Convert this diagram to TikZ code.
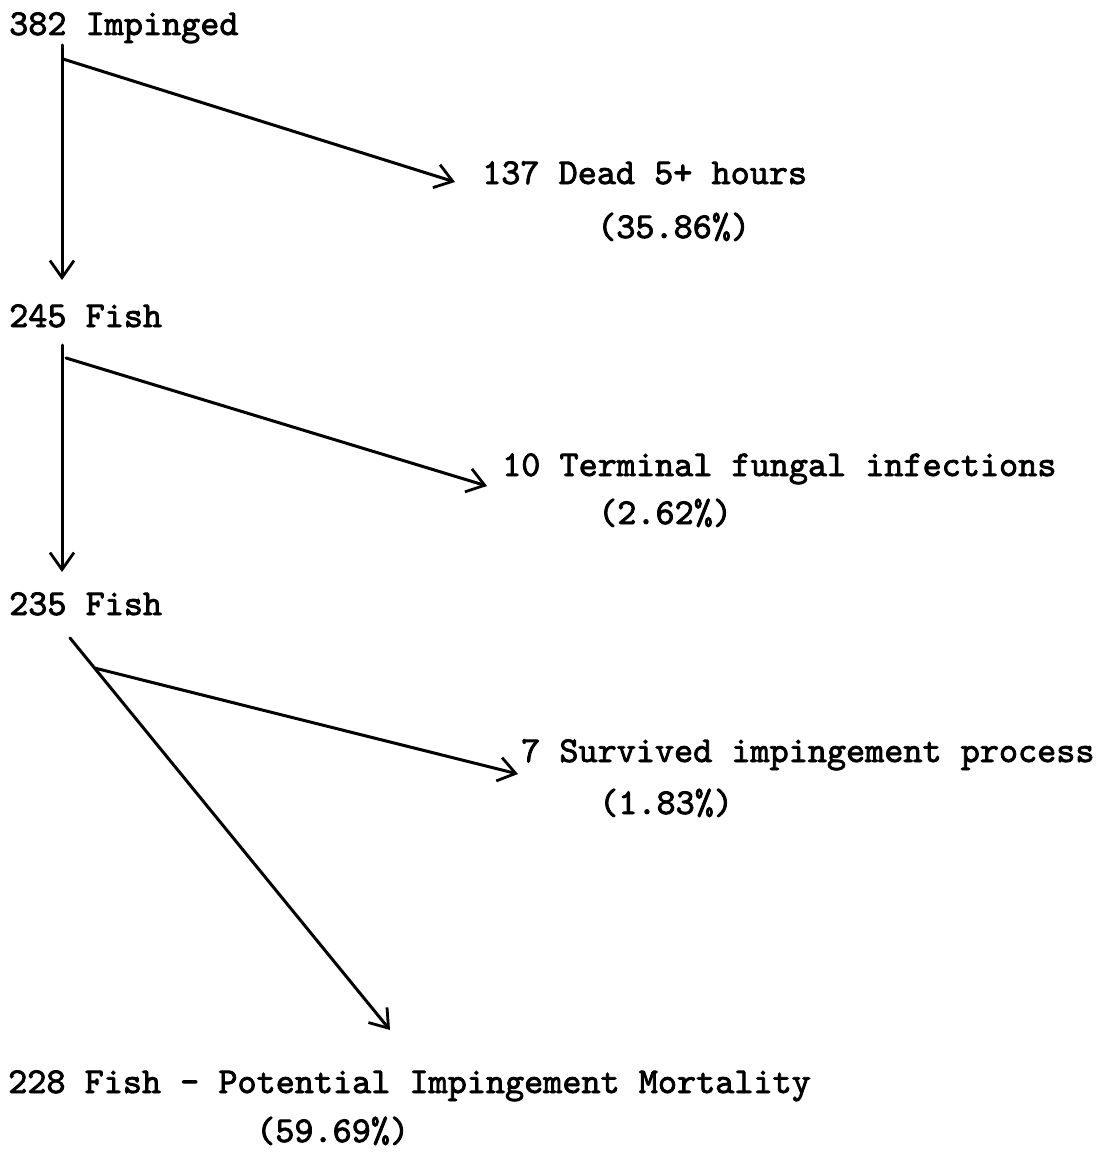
\documentclass[tikz,border=0pt]{standalone}
\usepackage{fontspec}
\newfontfamily\typewriter{lmmono10-regular.otf}[FakeBold=2.2]
\usetikzlibrary{arrows.meta,calc}
\begin{document}
\begin{tikzpicture}[x=1pt,y=-1pt,
  label/.style={anchor=base west,inner sep=0pt,
    font=\typewriter\fontsize{36.4}{42}\selectfont},
  flow/.style={line width=3pt,line cap=round,-{Straight Barb[length=17pt,width=24pt,line width=2.8pt]}}]
\useasboundingbox (0,0) rectangle (1107,1153);
\fill[white] (0,0) rectangle (1107,1153);

% stage labels
\node[label] (n382) at (9,35)    {382 Impinged};
\node[label] (n137) at (482,184) {137 Dead 5+ hours};
\node[label] (p137) at (597,238) {(35.86\%)};
\node[label] (n245) at (9,327)   {245 Fish};
\node[label] (n10)  at (502,476) {10 Terminal fungal infections};
\node[label] (p10)  at (598,524) {(2.62\%)};
\node[label] (n235) at (9,615)   {235 Fish};
\node[label] (n7)   at (521,762) {7 Survived impingement process};
\node[label] (p7)   at (599,814) {(1.83\%)};
\node[label] (n228) at (8,1093)  {228 Fish - Potential Impingement Mortality};
\node[label] (p228) at (256,1142){(59.69\%)};

% branch points
\coordinate (s1) at ($(n382.base west)+(53,10)$);
\coordinate (j1) at ($(n382.base west)+(54,24)$);
\coordinate (s2) at ($(n245.base west)+(53,18)$);
\coordinate (j2) at ($(n245.base west)+(57,31)$);
\coordinate (s3) at ($(n235.base west)+(61,23)$);
\coordinate (e3) at ($(n228.base west)+(382,-63)$);
\coordinate (j3) at ($(s3)!0.0765!(e3)$);

% connectors
\draw[flow] (s1) -- ($(n245.base west)+(53,-47)$);
\draw[flow] (j1) -- ($(n137.base west)+(-27,-2)$);
\draw[flow] (s2) -- ($(n235.base west)+(53,-43)$);
\draw[flow] (j2) -- ($(n10.base west)+(-15,10)$);
\draw[flow] (s3) -- (e3);
\draw[flow] (j3) -- ($(n7.base west)+(-3,12)$);
\end{tikzpicture}
\end{document}
